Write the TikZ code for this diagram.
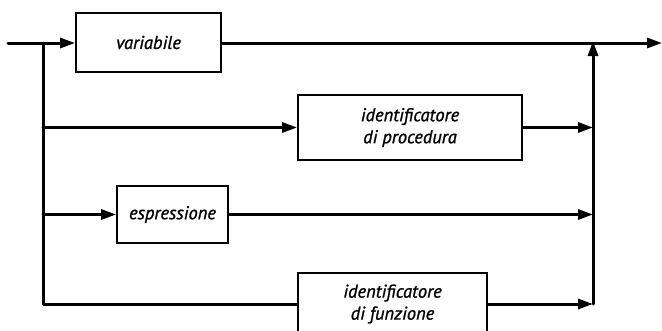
\documentclass[tikz,border=0pt]{standalone}
\usepackage{fontspec}
\setmainfont{PT Sans}
\newfontface\synfont{PT Sans Italic}[FakeBold=1.2]
\usetikzlibrary{arrows.meta}
\begin{document}
\begin{tikzpicture}[x=1pt,y=-1pt,
  flow/.style={line width=3pt,line join=round,line cap=round},
  tip/.style={-{Triangle[length=15pt,width=10pt]}},
  syn/.style={draw,line width=1.8pt,align=center,inner sep=0pt,
    font=\fontsize{18.5}{22}\synfont}]
\useasboundingbox (0,0) rectangle (662,330);

% syntax boxes
\node[syn,minimum width=145pt,minimum height=59pt] (var) at (148.5,42.5) {variabile};
\node[syn,minimum width=224pt,minimum height=65pt] (proc) at (410,127.5) {identificatore\\di procedura};
\node[syn,minimum width=111pt,minimum height=57pt] (expr) at (172.5,214.5) {espressione};
\node[syn,minimum width=189pt,minimum height=62pt] (fun) at (392.5,304) {identificatore\\di funzione};

% branch and merge points
\coordinate (start) at (8,43);
\coordinate (split) at (43,43);
\coordinate (join) at (593,43);
\coordinate (out) at (662,43);
\coordinate (bl) at (43,304);
\coordinate (br) at (593,304);

% main line
\draw[flow,tip] (start) -- (var.west |- start);
\draw[flow,tip] (var.east |- start) -- (out);

% left rail and alternatives
\draw[flow] (split) -- (bl) -- (fun.west |- bl);
\draw[flow,tip] (proc.west -| split) -- (proc.west);
\draw[flow,tip] (expr.west -| split) -- (expr.west);

% outgoing branches to the right rail
\draw[flow,tip] (proc.east) -- (proc.east -| join);
\draw[flow,tip] (expr.east) -- (expr.east -| join);
\draw[flow,tip] (fun.east |- br) -- (br);
\draw[flow,tip] (br) -- ([yshift=2pt]join);
\end{tikzpicture}
\end{document}
